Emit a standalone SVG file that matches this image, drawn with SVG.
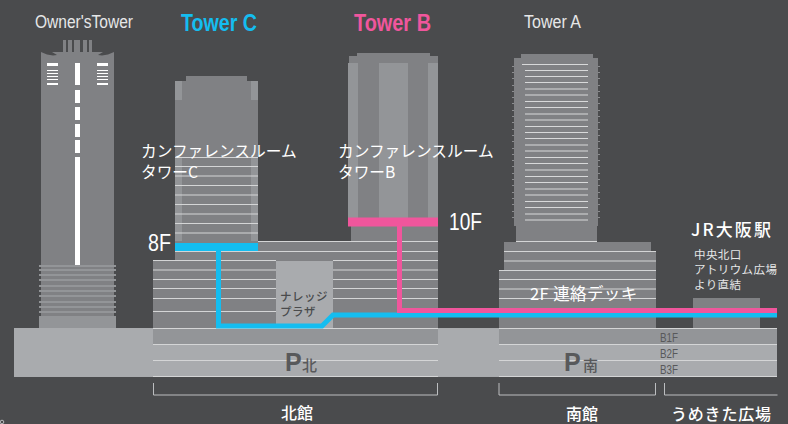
<svg xmlns="http://www.w3.org/2000/svg" width="788" height="424" viewBox="0 0 788 424">
<style>
.t{font-family:"Liberation Sans","Noto Sans CJK JP",sans-serif}
.n{font-family:"Liberation Sans Narrow","Liberation Sans",sans-serif}
.j{font-family:"Noto Sans CJK JP",sans-serif}
.w{fill:#fff}
.d{fill:#808184}
.m{fill:#939598}
.l{fill:#a9abae}
.fl{stroke:#d4d5d6;stroke-width:1;fill:none}
.wl{stroke:#d8d9da;stroke-width:1;fill:none}
.br{stroke:#bcbec0;stroke-width:1;fill:none}
</style>
<rect width="788" height="424" fill="#4a4b4d"/>
<g id="ground">
<rect x="14" y="328" width="140" height="49" class="l"/>
<rect x="437" y="328" width="62" height="49" class="l"/>
<circle cx="2" cy="422" r="1.800" fill="none" stroke="#bcbec0"/>
</g>
<g id="owners-tower">
<path class="d" d="M41 52L47 54.500L53 55.500L57 55L52 52H63V40H92V52H103L98 55L102 55.500L108 54.500L114 52V316H41z"/>
<path class="m" d="M39 265h77v2h-77zM39 269h77v2h-77zM39 274h77v2h-77zM39 279h77v2h-77zM39 285h77v2h-77zM39 290h77v2h-77zM39 295h77v2h-77zM39 301h77v2h-77zM39 306h77v2h-77zM39 311h77v2h-77zM39 316h77v12h-77z"/>
<path class="w" d="M75 63h5v22h-5zM75 90h5v13h-5zM75 107h5v13h-5zM75 124h5v13h-5zM75 140h5v13h-5zM75 157h5v108h-5z"/>
<path class="w" d="M47 63h11v3h-11zM47 70h11v1h-11zM47 73h11v1h-11zM47 76h11v1h-11zM47 79h11v1h-11zM47 83h11v2h-11zM97 63h11v3h-11zM97 70h11v1h-11zM97 73h11v1h-11zM97 76h11v1h-11zM97 79h11v1h-11zM97 83h11v2h-11z"/>
<path fill="#4a4b4d" d="M66 40h2v12h-2zM72 40h2v12h-2zM80 40h3v12h-3zM87 40h2v12h-2z"/>
</g>
<g id="tower-c">
<path class="d" d="M175 81h11v-5h61v5h11v170h-83z"/>
<rect x="175" y="81" width="7" height="19" class="m"/><rect x="251" y="81" width="7" height="19" class="m"/>
<rect x="175" y="157" width="7" height="88" class="m"/>
<rect x="251" y="157" width="7" height="88" class="m"/>
<path class="fl" d="M175 157.500h83M175 166.500h83M175 176h83M175 185.500h83M175 195h83M175 204.500h83M175 214h83M175 223.500h83M175 233h83"/>
</g>
<g id="tower-b">
<path class="d" d="M349 63v-7h8v-3h73v3h8v7v155h-89z"/>
<rect x="348" y="63" width="10" height="155" class="m"/><rect x="428" y="63" width="10" height="155" class="m"/>
<rect x="379" y="63" width="29" height="155" class="m"/>
<rect x="351" y="225" width="87" height="16" class="d"/>
</g>
<g id="tower-a">
<path class="d" d="M514 58h7v-4h72v4h5v168h-84z"/>
<path fill="#8c8d90" d="M512 66h2v1h-2zM598 66h2v1h-2zM512 72h2v1h-2zM598 72h2v1h-2zM512 78h2v1h-2zM598 78h2v1h-2zM512 85h2v1h-2zM598 85h2v1h-2zM512 91h2v1h-2zM598 91h2v1h-2zM512 97h2v1h-2zM598 97h2v1h-2zM512 103h2v1h-2zM598 103h2v1h-2zM512 110h2v1h-2zM598 110h2v1h-2zM512 116h2v1h-2zM598 116h2v1h-2zM512 122h2v1h-2zM598 122h2v1h-2zM512 129h2v1h-2zM598 129h2v1h-2zM512 135h2v1h-2zM598 135h2v1h-2zM512 141h2v1h-2zM598 141h2v1h-2zM512 148h2v1h-2zM598 148h2v1h-2zM512 154h2v1h-2zM598 154h2v1h-2zM512 160h2v1h-2zM598 160h2v1h-2zM512 166h2v1h-2zM598 166h2v1h-2zM512 173h2v1h-2zM598 173h2v1h-2zM512 179h2v1h-2zM598 179h2v1h-2zM512 185h2v1h-2zM598 185h2v1h-2zM512 192h2v1h-2zM598 192h2v1h-2zM512 198h2v1h-2zM598 198h2v1h-2zM512 204h2v1h-2zM598 204h2v1h-2zM512 211h2v1h-2zM598 211h2v1h-2zM512 217h2v1h-2zM598 217h2v1h-2z"/>
<path class="wl" d="M522 64.500h66M525 70.500h63M525 76.500h63M525 82.500h63M525 89h63M525 95h63M525 101.500h63M525 107.500h63M525 114h63M525 120h63M525 126.500h63M525 132.500h63M525 138.500h63M525 145h63M525 151h63M525 157.500h63M525 163.500h63M525 170h63M525 176.500h63M525 182.500h63M525 189h63M525 195h63M525 201.500h63M525 207.500h63M525 214h63M525 220h63"/>
<rect x="516" y="226" width="81" height="16" class="d"/>
<path class="fl" d="M516 241.500h81"/>
</g>
<g id="north-building">
<rect x="175" y="241" width="263" height="87" class="d"/>
<rect x="153" y="260" width="285" height="68" class="d"/>
<path class="fl" d="M258 241.500h180M175 251.500h263M153 260.500h123M333 260.500h105M153 270h123M333 270h105M153 279.500h123M333 279.500h105M153 288.500h123M333 288.500h105M153 298.500h123M333 298.500h105M153 311.500h123"/>
<rect x="276" y="261" width="57" height="67" class="l"/>
<rect x="153" y="328" width="285" height="16" class="m"/>
<rect x="153" y="344" width="285" height="33" class="l"/>
<path class="fl" d="M153 328.500h285M153 344.500h285M153 360.500h285M153 376.500h285"/>
<text class="j" x="280" y="301" font-size="11.500" font-weight="500" fill="#4a4b4d" letter-spacing=".5">ナレッジ</text>
<text class="j" x="280" y="316" font-size="11.500" font-weight="500" fill="#4a4b4d" letter-spacing=".5">プラザ</text>
<text class="t" x="285" y="371" font-size="25" font-weight="700" fill="#58595b">P</text>
<text class="j" x="302" y="371" font-size="15" font-weight="500" fill="#58595b">北</text>
</g>
<g id="south-building">
<rect x="504" y="242" width="147" height="10" class="d"/>
<rect x="504" y="252" width="152" height="20" class="d"/>
<rect x="499" y="270" width="157" height="58" class="d"/>
<path class="fl" d="M504 251.500h152M504 261h152M499 270.500h157M499 279.500h157M499 289h157M499 298.500h157"/>
<rect x="499" y="328" width="278" height="16" class="m"/>
<rect x="499" y="344" width="278" height="33" class="l"/>
<path class="fl" d="M499 328.500h278M499 344.500h278M499 360.500h278M499 376.500h278"/>
<text class="t" x="564" y="371" font-size="25" font-weight="700" fill="#58595b">P</text>
<text class="j" x="583" y="371" font-size="15" font-weight="500" fill="#58595b">南</text>
<text class="n" x="660" y="342" font-size="12" fill="#58595b" textLength="18" lengthAdjust="spacingAndGlyphs">B1F</text>
<text class="n" x="660" y="358" font-size="12" fill="#58595b" textLength="18" lengthAdjust="spacingAndGlyphs">B2F</text>
<text class="n" x="660" y="374" font-size="12" fill="#58595b" textLength="18" lengthAdjust="spacingAndGlyphs">B3F</text>
</g>
<g id="jr-osaka">
<rect x="693" y="298" width="67" height="30" class="d"/>
<text class="j" x="691" y="236" font-size="17" font-weight="500" fill="#fff" letter-spacing="2.100">JR大阪駅</text>
<text class="j" x="694" y="259" font-size="11.500" fill="#e6e7e8" letter-spacing=".4">中央北口</text>
<text class="j" x="694" y="274" font-size="11.500" fill="#e6e7e8" letter-spacing=".4">アトリウム広場</text>
<text class="j" x="694" y="289" font-size="11.500" fill="#e6e7e8" letter-spacing=".4">より直結</text>
</g>
<g id="connectors" fill="none" stroke-linejoin="miter">
<path stroke="#14bdf0" stroke-width="5" d="M218.500 249V326H322L333 315H777"/>
<path stroke="#14bdf0" stroke-width="8" d="M175 247h83"/>
<path stroke="#f0569c" stroke-width="5" d="M399.500 222V310.500H777"/>
<path stroke="#f0569c" stroke-width="9" d="M348 222h90"/>
</g>
<g id="labels">
<text class="n" x="35" y="28" font-size="18" fill="#e6e7e8" textLength="98" lengthAdjust="spacingAndGlyphs">Owner'sTower</text>
<text class="n" x="181" y="31" font-size="23" font-weight="700" fill="#14bdf0" textLength="76" lengthAdjust="spacingAndGlyphs">Tower C</text>
<text class="n" x="354" y="31" font-size="23" font-weight="700" fill="#f0569c" textLength="77" lengthAdjust="spacingAndGlyphs">Tower B</text>
<text class="n" x="524" y="28" font-size="18" fill="#e6e7e8" textLength="57" lengthAdjust="spacingAndGlyphs">Tower A</text>
<text class="j" x="141" y="157" font-size="15.700" fill="#fff">カンファレンスルーム</text>
<text class="j" x="141" y="178" font-size="15.700" fill="#fff">タワーC</text>
<text class="j" x="338" y="157" font-size="15.700" fill="#fff">カンファレンスルーム</text>
<text class="j" x="338" y="178" font-size="15.700" fill="#fff">タワーB</text>
<text class="n" x="148" y="251" font-size="23" fill="#fff" textLength="23" lengthAdjust="spacingAndGlyphs">8F</text>
<text class="n" x="449" y="230" font-size="23" fill="#fff" textLength="33" lengthAdjust="spacingAndGlyphs">10F</text>
<text class="j" x="530" y="300" font-size="16.500" fill="#fff" letter-spacing=".4">2F 連絡デッキ</text>
<text class="j" x="281" y="419" font-size="16" font-weight="500" fill="#fff">北館</text>
<text class="j" x="566" y="420" font-size="16" font-weight="500" fill="#fff">南館</text>
<text class="j" x="671" y="420" font-size="16" font-weight="500" fill="#fff" letter-spacing=".8">うめきた広場</text>
<path class="br" d="M153.500 383v12h284v-12M499 383v12h156.500v-12M664.500 383v12h113"/>
</g>
</svg>
